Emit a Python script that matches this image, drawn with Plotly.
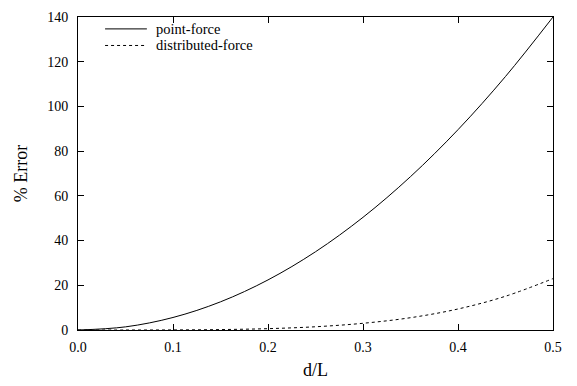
import plotly.graph_objects as go

# d/L samples and percentage error for the two loading models
d_over_L = [0.0, 0.05, 0.1, 0.15, 0.2, 0.25, 0.3, 0.35, 0.4, 0.45, 0.5]
point_force = [0.0, 1.4, 5.6, 12.6, 22.4, 35.0, 50.4, 68.6, 89.6, 113.4, 140.0]
distributed_force = [0.0, 0.002, 0.04, 0.19, 0.6, 1.45, 3.0, 5.5, 9.4, 15.1, 23.0]

x_ticks = [0.0, 0.1, 0.2, 0.3, 0.4, 0.5]
x_tick_text = ["0.0", "0.1", "0.2", "0.3", "0.4", "0.5"]
y_ticks = [0, 20, 40, 60, 80, 100, 120, 140]

series_names = ["point-force", "distributed-force"]
series_dash = ["solid", "dot"]

serif = "Liberation Serif"

fig = go.Figure()
for name, ys, dash in zip(series_names, [point_force, distributed_force], series_dash):
    fig.add_trace(go.Scatter(
        x=d_over_L, y=ys, mode="lines", name=name,
        line=dict(color="black", width=1, dash=dash, shape="spline"),
        showlegend=False,
    ))

# gnuplot-style key in the upper-left corner of the plot box
key_rows_y = [0.962, 0.909]
for name, dash, ky in zip(series_names, series_dash, key_rows_y):
    fig.add_shape(type="line", xref="paper", yref="paper",
                  x0=0.057, x1=0.145, y0=ky, y1=ky,
                  line=dict(color="black", width=1, dash=dash))
    fig.add_annotation(xref="paper", yref="paper", x=0.162, y=ky,
                       xanchor="left", yanchor="middle", showarrow=False,
                       borderpad=0,
                       text=name, font=dict(family=serif, size=14.5, color="black"))

axis_common = dict(
    showline=True, linecolor="black", linewidth=1, mirror="ticks",
    ticks="inside", ticklen=6, tickcolor="black", tickwidth=1,
    showgrid=False, zeroline=False,
    tickfont=dict(family=serif, size=14, color="black"),
)

fig.update_layout(
    width=577, height=386,
    margin=dict(l=78, r=24, t=10, b=56),
    paper_bgcolor="white", plot_bgcolor="white",
    font=dict(family=serif, color="black"),
    xaxis=dict(range=[0, 0.5], tickvals=x_ticks, ticktext=x_tick_text,
               ticklabelstandoff=4,
               title=dict(text="d/L", font=dict(family=serif, size=18), standoff=9),
               **axis_common),
    yaxis=dict(range=[0, 140], tickvals=y_ticks, ticklabelstandoff=6,
               title=dict(text="% Error", font=dict(family=serif, size=18), standoff=14),
               **axis_common),
    showlegend=False,
)

fig.write_html("out.html")
